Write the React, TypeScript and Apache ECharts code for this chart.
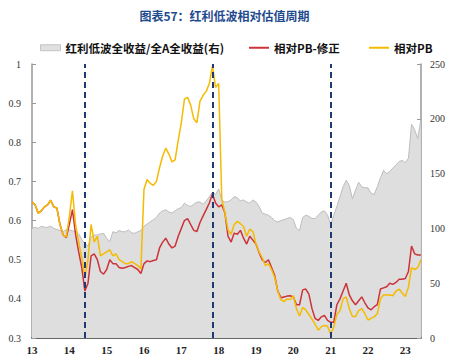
import React, { useEffect, useRef } from "react";
import * as echarts from "echarts";

const TITLE = "图表57：红利低波相对估值周期";
const NAME_G = "红利低波全收益/全A全收益(右)";
const NAME_R = "相对PB-修正";
const NAME_Y = "相对PB";

// monthly observations starting Jan 2013
const START_YEAR = 2013;

const yellowPB = [
  0.648, 0.64, 0.619, 0.625, 0.635, 0.64, 0.652, 0.635, 0.632, 0.59, 0.563, 0.558,
  0.61, 0.676, 0.59, 0.545, 0.505, 0.455, 0.5, 0.59, 0.545, 0.56, 0.51, 0.515,
  0.52, 0.525, 0.51, 0.515, 0.5, 0.495, 0.49, 0.49, 0.495, 0.49, 0.485, 0.476,
  0.68, 0.705, 0.695, 0.69, 0.7, 0.735, 0.765, 0.785, 0.77, 0.75, 0.755, 0.805,
  0.85, 0.91, 0.915, 0.895, 0.86, 0.85, 0.905, 0.92, 0.93, 0.95, 0.995, 0.94,
  0.95, 0.655, 0.62, 0.576, 0.565, 0.59, 0.598, 0.592, 0.585, 0.56, 0.578, 0.572,
  0.54, 0.52, 0.505, 0.485, 0.49, 0.475, 0.455, 0.42, 0.398, 0.393, 0.4, 0.398,
  0.408, 0.375, 0.356, 0.378, 0.372, 0.36, 0.348, 0.335, 0.32, 0.329, 0.332, 0.33,
  0.31, 0.328, 0.36, 0.37, 0.4, 0.405, 0.375, 0.355, 0.355, 0.37, 0.375, 0.362,
  0.346, 0.35, 0.354, 0.362, 0.4, 0.41, 0.41, 0.41, 0.408, 0.42, 0.425, 0.415,
  0.406, 0.43, 0.48, 0.475, 0.48, 0.5,
];

const redPBAdj = [
  0.648, 0.64, 0.619, 0.625, 0.635, 0.64, 0.652, 0.635, 0.632, 0.59, 0.563, 0.556,
  0.59, 0.628, 0.565, 0.52, 0.48, 0.42, 0.44, 0.51, 0.515, 0.5, 0.47, 0.463,
  0.475, 0.5, 0.49, 0.49, 0.48, 0.478, 0.48, 0.483, 0.485, 0.48, 0.475, 0.465,
  0.49, 0.497, 0.495, 0.498, 0.5, 0.53, 0.545, 0.555, 0.54, 0.53, 0.535, 0.56,
  0.58, 0.6, 0.605, 0.59, 0.575, 0.572, 0.595, 0.612, 0.628, 0.645, 0.668, 0.645,
  0.635, 0.64, 0.62, 0.56, 0.545, 0.568, 0.565, 0.575, 0.555, 0.54, 0.56, 0.55,
  0.54, 0.518, 0.5, 0.493, 0.5, 0.48, 0.46, 0.42, 0.403, 0.405, 0.407, 0.408,
  0.405, 0.385, 0.385, 0.423, 0.425, 0.412, 0.375, 0.35, 0.345, 0.354, 0.358, 0.345,
  0.34, 0.34, 0.385, 0.4, 0.42, 0.44, 0.41, 0.395, 0.385, 0.395, 0.405, 0.39,
  0.377, 0.372, 0.38, 0.385, 0.425, 0.428, 0.431, 0.44, 0.437, 0.442, 0.45, 0.45,
  0.452, 0.47, 0.535, 0.515, 0.512, 0.512,
];

const greyRatio = [
  100, 101, 100, 102, 101, 101, 102, 100, 99, 98, 97, 99,
  98.5, 98, 97, 95, 90, 86, 84, 92, 94, 94, 95, 95.5,
  91, 88, 97, 96, 98, 97, 97, 98.5, 96, 95.5, 97, 98,
  102, 104, 106, 108, 110, 114, 116, 117, 115, 114, 116, 118,
  119, 123, 121, 120, 122, 124, 124, 122, 125, 129, 133, 131,
  136, 126, 124, 124.4, 126, 129, 128, 125, 126, 124, 123, 126,
  124, 120, 114, 113, 112, 110, 107, 106, 107, 108, 109, 110,
  108, 100, 98, 110, 112, 111, 109, 109, 112, 115, 116, 112,
  104, 112, 120, 129, 138, 144, 139, 127, 135, 142, 138, 137,
  137, 132, 131, 138, 146, 153, 150, 152, 155, 158, 161, 162,
  160, 164, 195, 190, 182, 199,
];

const cycleMarks = [2014.4, 2017.84, 2020.99];

const leftTicks = { min: 0.3, max: 1, interval: 0.1 };
const rightTicks = { min: 0, max: 250, interval: 50 };
const xRange = { min: 2013, max: 2023.42, interval: 1 };

export default function App() {
  const ref = useRef<HTMLDivElement>(null);
  useEffect(() => {
    document.body.style.margin = "0";
    if (!ref.current) return;
    const chart = echarts.init(ref.current, undefined, { renderer: "svg" });
    const dates = yellowPB.map((_, i) => START_YEAR + i / 12);
    const pair = (arr: number[]) => arr.map((v, i) => [dates[i], v]);
    const serif = "'Liberation Serif', 'Times New Roman', serif";
    const cjk = "'Noto Sans CJK SC', 'Microsoft YaHei', sans-serif";
    const legendText = { fontFamily: cjk, fontWeight: "bold" as const, fontSize: 11.5, color: "#111" };
    chart.setOption({
      animation: false,
      backgroundColor: "#fff",
      title: {
        text: TITLE,
        left: "center",
        top: 4,
        textStyle: { fontFamily: cjk, fontWeight: "bold", fontSize: 12, color: "#1e4a8e" },
      },
      legend: [
        {
          left: 35, top: 37, itemWidth: 20, itemHeight: 6, itemGap: 4,
          data: [{ name: NAME_G, icon: "rect", itemStyle: { color: "#e0e0e0", borderColor: "#c4c4c4", borderWidth: 1 } }],
          textStyle: legendText,
        },
        {
          left: 244, top: 37, itemWidth: 20, itemHeight: 2,
          data: [{ name: NAME_R, icon: "rect" }], textStyle: legendText,
        },
        {
          left: 364, top: 37, itemWidth: 20, itemHeight: 2,
          data: [{ name: NAME_Y, icon: "rect" }], textStyle: legendText,
        },
      ],
      grid: { left: 32, right: 28, top: 64, bottom: 19, containLabel: false },
      xAxis: {
        type: "value",
        ...xRange,
        axisLine: { show: true, lineStyle: { color: "#333", width: 1.5 } },
        axisTick: { show: false },
        splitLine: { show: false },
        axisLabel: {
          showMaxLabel: false,
          margin: 6,
          fontFamily: serif,
          fontWeight: "bold",
          fontSize: 11,
          color: "#222",
          formatter: (v: number) => String(Math.round(v) - 2000),
        },
      },
      yAxis: [
        {
          type: "value",
          ...leftTicks,
          position: "left",
          axisLine: { show: true, lineStyle: { color: "#999", width: 1.5 } },
          axisTick: { show: true, inside: true, length: 4, lineStyle: { color: "#999" } },
          splitLine: { show: false },
          axisLabel: {
            margin: 11,
            fontFamily: serif,
            fontSize: 10,
            color: "#333",
            formatter: (v: number) => String(Math.round(v * 10) / 10),
          },
        },
        {
          type: "value",
          ...rightTicks,
          position: "right",
          axisLine: { show: true, lineStyle: { color: "#999", width: 1.5 } },
          axisTick: { show: true, inside: true, length: 4, lineStyle: { color: "#999" } },
          splitLine: { show: false },
          axisLabel: { margin: 9, fontFamily: serif, fontSize: 10, color: "#333" },
        },
      ],
      series: [
        {
          name: NAME_G,
          type: "line",
          yAxisIndex: 1,
          data: pair(greyRatio),
          symbol: "none",
          color: "#dcdcdc",
          lineStyle: { color: "#bdbdbd", width: 1 },
          areaStyle: { color: "#dedede", opacity: 1 },
          z: 1,
        },
        {
          name: NAME_R,
          type: "line",
          data: pair(redPBAdj),
          symbol: "none",
          color: "#cc3338",
          lineStyle: { color: "#cc3338", width: 1.5 },
          z: 3,
        },
        {
          name: NAME_Y,
          type: "line",
          data: pair(yellowPB),
          symbol: "none",
          color: "#f5bb00",
          lineStyle: { color: "#f5bb00", width: 1.5 },
          z: 4,
          markLine: {
            silent: true,
            symbol: ["none", "none"],
            label: { show: false },
            lineStyle: { color: "#1f3a70", width: 2, type: [6, 4] },
            data: cycleMarks.map((x) => ({ xAxis: x })),
          },
        },
      ],
    });
    return () => chart.dispose();
  }, []);
  return <div ref={ref} style={{ width: 449, height: 357 }} />;
}
